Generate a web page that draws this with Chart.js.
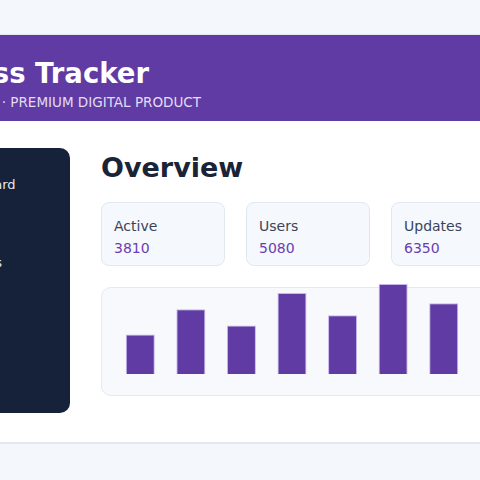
<!DOCTYPE html>
<html><head><meta charset="utf-8">
<script src="https://cdn.jsdelivr.net/npm/chart.js@4"></script>
<style>
body{margin:0;width:480px;height:480px;overflow:hidden;position:relative;background:#f4f7fc;font-family:"DejaVu Sans",sans-serif}
.abs{position:absolute}
#main{left:0;top:120px;width:480px;height:322px;background:#fff;border-bottom:2px solid #e1e7f0}
#head{left:0;top:34px;width:480px;height:86px;background:#5f3ba3;border-top:1px solid #e4e8f2}
.card{background:#f5f8fd;border:1px solid #e2e8f2;border-radius:8px;width:122px;height:62px;top:202px}
.card .l{position:absolute;left:12px;top:15px;font-size:14px;color:#3a4458}
.card .v{position:absolute;left:12px;top:37px;font-size:14px;color:#6a40b0}
.nav{font-size:13px;color:#e6e9f0;white-space:nowrap}
</style></head><body>
<div id="main" class="abs"></div>
<div id="head" class="abs"></div>
<div class="abs" style="right:331px;top:57px;font-size:27.5px;font-weight:bold;color:#fff;white-space:nowrap">Fitness Tracker</div>
<div class="abs" style="right:279px;top:94px;font-size:13.5px;color:#e4dcf5;white-space:nowrap">PRO · PREMIUM DIGITAL PRODUCT</div>
<div class="abs" style="left:-40px;top:148px;width:110px;height:265px;background:#16213a;border-radius:10px"></div>
<div class="abs nav" style="left:-55px;top:177px">Dashboard</div>
<div class="abs nav" style="left:-60px;top:203px">Home</div>
<div class="abs nav" style="left:-60px;top:229px">Goals</div>
<div class="abs nav" style="left:-57px;top:255px">Analytics</div>
<div class="abs" style="left:101px;top:152px;font-size:27px;font-weight:bold;color:#1b2336">Overview</div>
<div class="abs card" style="left:101px"><div class="l">Active</div><div class="v">3810</div></div>
<div class="abs card" style="left:246px"><div class="l">Users</div><div class="v">5080</div></div>
<div class="abs card" style="left:391px"><div class="l">Updates</div><div class="v">6350</div></div>
<div class="abs" style="left:101px;top:287px;width:420px;height:107px;background:#f8f9fd;border:1px solid #e6e9f1;border-radius:10px"></div>
<div class="abs" style="left:115px;top:284px;width:354px;height:90px"><canvas id="c"></canvas></div>
<script>
const labels = ['Mon','Tue','Wed','Thu','Fri','Sat','Sun'];
const values = [39, 64, 48, 80, 58, 89, 70];
new Chart(document.getElementById('c'), {
  type: 'bar',
  data: { labels: labels, datasets: [{ data: values, backgroundColor: '#5f3ba3', borderColor: '#c7b5ee', borderWidth: 1, categoryPercentage: 1, barPercentage: 0.574 }] },
  options: {
    responsive: true, maintainAspectRatio: false, animation: false,
    layout: { padding: 0 },
    plugins: { legend: { display: false }, tooltip: { enabled: false } },
    scales: { x: { display: false }, y: { display: false, min: 0, max: 89 } }
  }
});
</script>
</body></html>
